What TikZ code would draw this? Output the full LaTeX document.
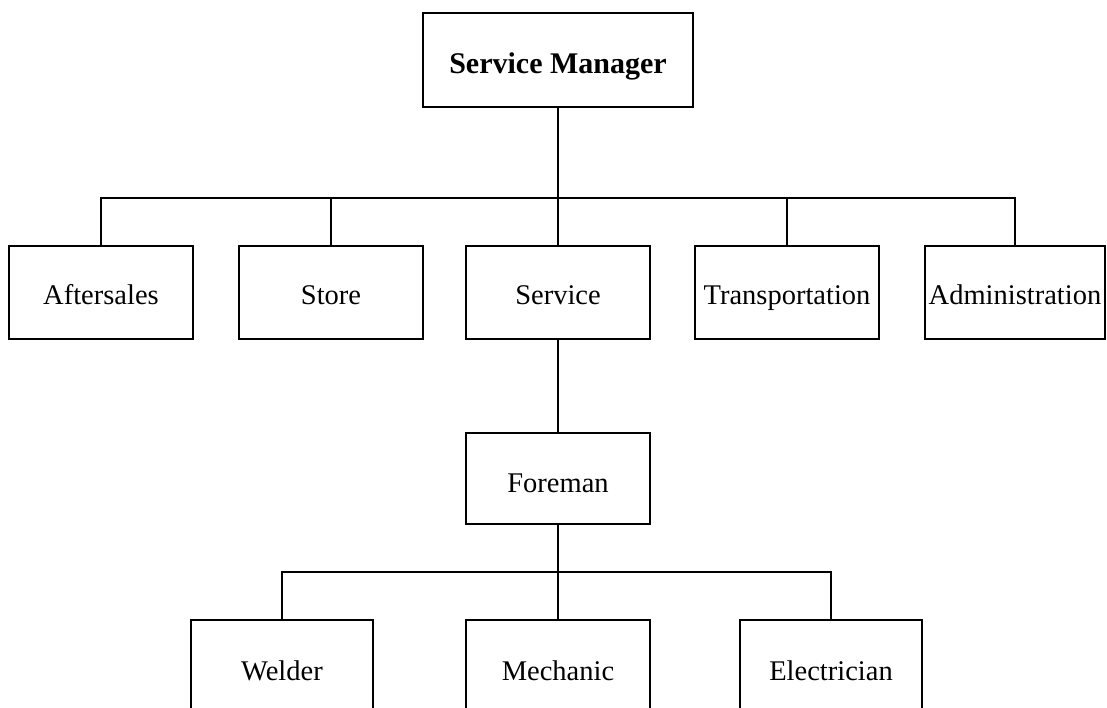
\documentclass[tikz,border=0pt]{standalone}
\usepackage{fontspec}
\setmainfont{Liberation Serif}
\begin{document}
\begin{tikzpicture}[x=1pt,y=-1pt,
  line width=1.5pt,
  unit/.style={draw=black, inner sep=0pt, minimum height=93pt,
    text height=24pt, text depth=0pt,
    font=\fontsize{28.5}{30}\selectfont},
  head/.style={draw=black, inner sep=0pt, minimum width=270pt, minimum height=94pt,
    text height=26pt, text depth=0pt,
    font=\fontsize{30}{32}\selectfont\bfseries},
  wire/.style={draw=black, line width=1.5pt}]
\useasboundingbox (0,0) rectangle (1107,707);
\clip (0,0) rectangle (1107,707);
\fill[white] (0,0) rectangle (1107,707);

% top of the chart
\node[head] (sm) at (558,60) {Service Manager};

% departments
\node[unit, minimum width=184pt] (aft) at (101,292.5) {Aftersales};
\node[unit, minimum width=184pt] (sto) at (331,292.5) {Store};
\node[unit, minimum width=184pt] (ser) at (558,292.5) {Service};
\node[unit, minimum width=184pt] (tra) at (787,292.5) {Transportation};
\node[unit, minimum width=180pt] (adm) at (1015,292.5) {Administration};

% service section
\node[unit, minimum width=184pt, minimum height=91pt, text height=27pt] (for) at (558,478.5) {Foreman};
\node[unit, minimum width=182pt, minimum height=99pt, text height=21pt] (wel) at (282,669.5) {Welder};
\node[unit, minimum width=184pt, minimum height=99pt, text height=21pt] (mec) at (558,669.5) {Mechanic};
\node[unit, minimum width=182pt, minimum height=99pt, text height=21pt] (ele) at (831,669.5) {Electrician};

% bus junctions
\coordinate (bus1) at (558,198);
\coordinate (bus2) at (558,572);

% connectors
\draw[wire] (sm.south) -- (bus1);
\draw[wire] (aft.north) |- (bus1);
\draw[wire] (sto.north) |- (bus1);
\draw[wire] (ser.north) -- (bus1);
\draw[wire] (tra.north) |- (bus1);
\draw[wire] (adm.north) |- (bus1);
\draw[wire] (ser.south) -- (for.north);
\draw[wire] (for.south) -- (bus2);
\draw[wire] (wel.north) |- (bus2);
\draw[wire] (mec.north) -- (bus2);
\draw[wire] (ele.north) |- (bus2);
\end{tikzpicture}
\end{document}
